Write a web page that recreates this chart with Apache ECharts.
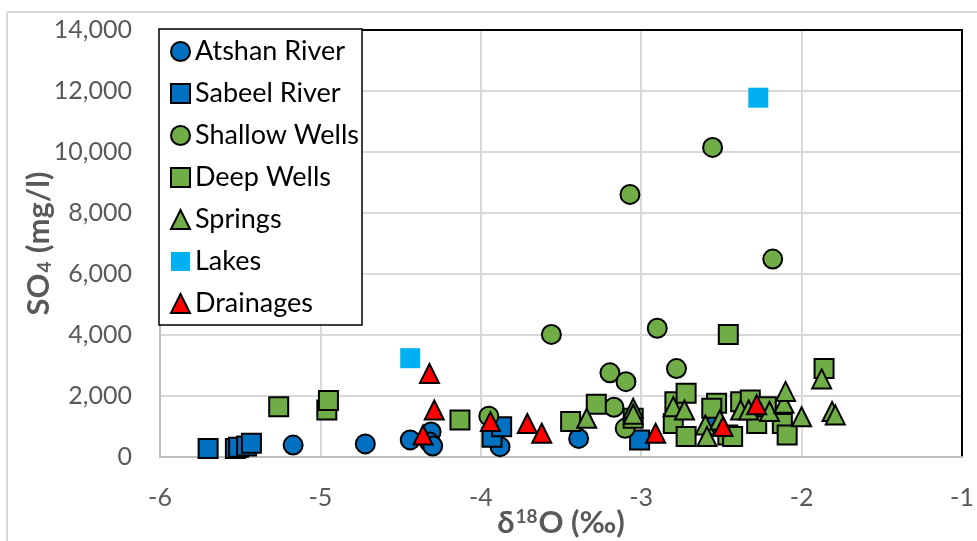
<!DOCTYPE html>
<html>
<head>
<meta charset="utf-8">
<script src="https://cdn.jsdelivr.net/npm/echarts@6/dist/echarts.min.js"></script>
<style>
html,body{margin:0;padding:0;background:#fff;overflow:hidden;}
#chart{width:977px;height:541px;}
</style>
</head>
<body>
<div id="chart"></div>
<script>
// Tick settings
const xTicks = { min: -6, max: -1, interval: 1 };
const yTicks = { min: 0, max: 14000, interval: 2000 };

// Series names
const seriesNames = ['Atshan River', 'Sabeel River', 'Shallow Wells', 'Deep Wells', 'Springs', 'Lakes', 'Drainages'];

// [δ18O, SO4] pairs
const atshanRiver = [
  [-5.17, 390], [-4.72, 430], [-4.44, 560], [-4.31, 820], [-4.32, 490],
  [-4.30, 360], [-3.88, 340], [-3.39, 610], [-2.54, 1050]
];
const sabeelRiver = [
  [-5.70, 280], [-5.53, 280], [-5.51, 320], [-5.46, 360], [-5.43, 450],
  [-3.93, 650], [-3.87, 990], [-3.01, 560]
];
const shallowWells = [
  [-2.555, 10150], [-3.07, 8610], [-2.18, 6490], [-2.90, 4220], [-3.56, 4020],
  [-2.78, 2900], [-3.195, 2760], [-3.095, 2470], [-3.17, 1630], [-3.10, 940],
  [-3.95, 1340]
];
const deepWells = [
  [-5.26, 1650], [-4.96, 1540], [-4.95, 1850], [-4.13, 1210], [-3.44, 1160],
  [-3.28, 1730], [-3.05, 1270], [-2.79, 1810], [-2.72, 2090], [-2.80, 1100],
  [-2.72, 670], [-2.53, 1760], [-2.56, 1600], [-2.38, 1810], [-2.32, 1870],
  [-2.46, 720], [-2.43, 670], [-2.28, 1100], [-2.12, 1100], [-2.09, 720],
  [-2.22, 1650], [-2.457, 4020], [-1.86, 2900]
];
const springs = [
  [-3.34, 1270], [-3.05, 1600], [-3.05, 1400], [-2.80, 1650], [-2.73, 1540],
  [-2.60, 1050], [-2.59, 670], [-2.51, 1210], [-2.38, 1540], [-2.33, 1540],
  [-2.20, 1490], [-2.11, 1760], [-2.10, 2150], [-2.00, 1320], [-1.875, 2560],
  [-1.81, 1490], [-1.79, 1380]
];
const lakes = [
  [-4.44, 3240], [-2.27, 11780]
];
const drainages = [
  [-4.32, 2740], [-4.29, 1540], [-4.36, 720], [-3.94, 1160], [-3.71, 1100],
  [-3.62, 780], [-2.91, 780], [-2.49, 1000], [-2.28, 1710]
];

const BLUE = '#0070C0', GREEN = '#70AD47', CYAN = '#00B0F0', RED = '#FF0000';
const FONT = 'Lato';

function mk(name, data, symbol, color, border, size) {
  return {
    name: name, type: 'scatter', data: data, symbol: symbol, symbolSize: size,
    itemStyle: { color: color, borderColor: border ? '#000' : color, borderWidth: border ? 2 : 0, opacity: 1 },
    emphasis: { disabled: true }
  };
}

const chart = echarts.init(document.getElementById('chart'), null, { renderer: 'canvas' });
chart.setOption({
  animation: false,
  backgroundColor: '#fff',
  textStyle: { fontFamily: FONT },
  graphic: [{
    type: 'line', z: -10, silent: true,
    shape: { x1: 7, y1: 12, x2: 7, y2: 541 },
    style: { stroke: '#D9D9D9', lineWidth: 2 }
  }, {
    type: 'line', z: -10, silent: true,
    shape: { x1: 7, y1: 12, x2: 977, y2: 12 },
    style: { stroke: '#D9D9D9', lineWidth: 2 }
  }],
  grid: { left: 160, right: 15, top: 30, bottom: 84, containLabel: false, outerBoundsMode: 'none' },
  legend: {
    orient: 'vertical', left: 159, top: 29,
    backgroundColor: '#fff', borderColor: '#000', borderWidth: 1.5,
    padding: [9, 3, 8, 11],
    itemWidth: 19, itemHeight: 19, itemGap: 15,
    textStyle: { fontFamily: FONT, fontSize: 27, color: '#000', lineHeight: 24 },
    data: seriesNames
  },
  xAxis: [{
    type: 'value', min: xTicks.min, max: xTicks.max, interval: xTicks.interval,
    name: '{d|δ}{s|18}{d|O (‰)}', nameLocation: 'middle', nameGap: 50, nameMoveOverlap: false,
    nameTextStyle: {
      rich: {
        d: { fontFamily: FONT, fontSize: 31, fontWeight: 'bold', color: '#595959' },
        s: { fontFamily: FONT, fontSize: 19, fontWeight: 'bold', color: '#595959', verticalAlign: 'top', padding: [0, 1, 12, 1] }
      }
    },
    axisLine: { show: true, onZero: false, lineStyle: { color: '#BFBFBF', width: 2 } },
    axisTick: { show: false },
    axisLabel: { fontFamily: FONT, fontSize: 25, color: '#595959', margin: 28 },
    splitLine: { show: true, lineStyle: { color: '#D9D9D9', width: 2 } }
  }, {
    type: 'value', position: 'top', min: xTicks.min, max: xTicks.max, interval: xTicks.interval,
    axisLine: { show: true, onZero: false, lineStyle: { color: '#000', width: 2 } },
    axisTick: { show: false }, axisLabel: { show: false }, splitLine: { show: false }
  }],
  yAxis: [{
    type: 'value', min: yTicks.min, max: yTicks.max, interval: yTicks.interval,
    name: '{d|SO}{s|4}{d| (mg/l)}', nameLocation: 'middle', nameGap: 106, nameRotate: 90, nameMoveOverlap: false,
    nameTextStyle: {
      rich: {
        d: { fontFamily: FONT, fontSize: 31, fontWeight: 'bold', color: '#595959' },
        s: { fontFamily: FONT, fontSize: 19, fontWeight: 'bold', color: '#595959', verticalAlign: 'bottom', padding: [12, 1, 0, 1] }
      }
    },
    axisLine: { show: true, onZero: false, lineStyle: { color: '#BFBFBF', width: 2 } },
    axisTick: { show: false },
    axisLabel: {
      fontFamily: FONT, fontSize: 25, color: '#595959', margin: 28,
      formatter: function (v) { return v.toLocaleString('en-US'); }
    },
    splitLine: { show: true, lineStyle: { color: '#D9D9D9', width: 2 } }
  }, {
    type: 'value', position: 'right', min: yTicks.min, max: yTicks.max, interval: yTicks.interval,
    axisLine: { show: true, onZero: false, lineStyle: { color: '#000', width: 2 } },
    axisTick: { show: false }, axisLabel: { show: false }, splitLine: { show: false }
  }],
  series: [
    mk(seriesNames[0], atshanRiver, 'circle', BLUE, true, 19),
    mk(seriesNames[1], sabeelRiver, 'rect', BLUE, true, 19),
    mk(seriesNames[2], shallowWells, 'circle', GREEN, true, 19),
    mk(seriesNames[3], deepWells, 'rect', GREEN, true, 19),
    mk(seriesNames[4], springs, 'triangle', GREEN, true, 19),
    mk(seriesNames[5], lakes, 'rect', CYAN, false, 20),
    mk(seriesNames[6], drainages, 'triangle', RED, true, 19)
  ]
});
</script>
</body>
</html>
